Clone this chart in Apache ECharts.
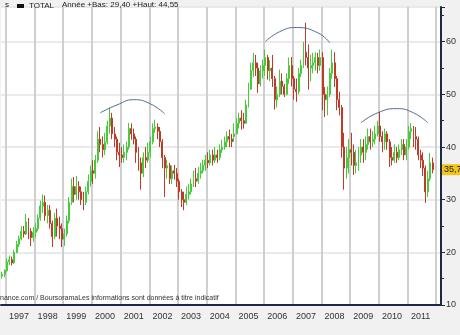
<!DOCTYPE html>
<html>
<head>
<meta charset="utf-8">
<script src="https://cdn.jsdelivr.net/npm/echarts@6.0.0/dist/echarts.min.js"></script>
<style>
html, body { margin: 0; padding: 0; background: #fff; }
#chart { width: 460px; height: 335px; }
</style>
</head>
<body>
<div id="chart"></div>
<script>
// monthly bars: [open, close, low, high]
var ohlc1996 = [[15.5,15.8,15.0,16.3],[15.8,16.5,15.3,16.8]];
var ohlc1997 = [[16.5,18.2,16.3,18.8],[18.2,18.6,17.6,19.4],[18.6,18.0,17.5,19.2],[18.0,20.0,17.8,20.5],
    [20.0,21.5,19.8,22.2],[21.5,22.6,21.0,23.2],[22.6,24.0,22.3,25.0],[24.0,23.5,22.8,25.0],
    [23.5,25.8,23.3,27.3],[25.8,24.0,22.5,26.5],[24.0,22.8,21.2,24.6],[22.8,23.8,22.0,24.8]];
var ohlc1998 = [[23.8,24.5,22.8,25.5],[24.5,26.5,24.0,27.2],[26.5,28.8,26.0,29.8],[28.8,29.5,27.5,31.0],
    [29.5,27.0,26.0,30.8],[27.0,28.0,25.5,29.0],[28.0,25.5,24.5,29.0],[25.5,23.0,21.0,26.0],
    [23.0,26.5,22.5,27.5],[26.5,25.0,23.0,28.3],[25.0,24.5,22.5,26.8],[24.5,22.5,21.0,25.5]];
var ohlc1999 = [[22.5,23.5,21.2,24.5],[23.5,26.0,23.0,27.0],[26.0,29.5,25.5,30.5],[29.5,32.5,29.0,34.0],
    [32.5,31.0,29.5,34.3],[31.0,32.5,30.0,34.5],[32.5,31.5,30.0,33.5],[31.5,30.0,29.0,32.5],
    [30.0,29.5,28.0,31.5],[29.5,31.5,29.0,32.5],[31.5,33.5,31.0,34.8],[33.5,35.5,32.5,36.5]];
var ohlc2000 = [[35.5,35.0,33.0,37.5],[35.0,37.5,34.0,38.5],[37.5,41.5,37.0,43.0],[41.5,40.5,39.0,43.8],
    [40.5,39.5,38.0,42.0],[39.5,41.0,38.5,42.7],[41.0,44.0,40.5,45.0],[44.0,45.5,42.5,47.5],
    [45.5,42.5,41.5,46.5],[42.5,41.5,40.0,43.8],[41.5,39.0,37.5,42.0],[39.0,38.5,36.2,40.8]];
var ohlc2001 = [[38.5,38.0,37.0,40.0],[38.0,39.0,37.0,40.5],[39.0,40.0,37.5,41.0],[40.0,43.5,39.5,44.6],
    [43.5,42.5,41.4,44.5],[42.5,41.5,40.5,43.5],[41.5,39.0,37.0,42.0],[39.0,37.0,35.5,40.0],
    [37.0,35.0,31.9,38.0],[35.0,38.0,34.3,39.0],[38.0,37.5,36.0,40.0],[37.5,39.0,37.0,40.8]];
var ohlc2002 = [[39.0,41.0,38.0,42.0],[41.0,43.5,40.5,44.5],[43.5,43.8,42.7,45.2],[43.8,43.0,41.5,44.5],
    [43.0,41.0,40.0,43.8],[41.0,38.0,36.0,41.5],[38.0,36.0,30.5,38.5],[36.0,36.5,34.0,37.6],
    [36.5,34.0,33.0,37.0],[34.0,35.5,33.0,36.5],[35.5,35.0,33.8,36.6],[35.0,33.5,32.4,36.0]];
var ohlc2003 = [[33.5,31.5,30.0,34.0],[31.5,30.0,28.6,32.0],[30.0,29.5,28.0,31.5],[29.5,31.0,29.0,32.5],
    [31.0,31.5,30.0,33.0],[31.5,33.0,31.0,34.0],[33.0,34.0,32.4,35.5],[34.0,33.5,32.4,36.0],
    [33.5,35.0,33.0,36.2],[35.0,35.5,34.0,37.0],[35.5,36.5,35.0,37.6],[36.5,37.5,35.5,38.5]];
var ohlc2004 = [[37.5,37.0,36.0,39.0],[37.0,38.5,36.5,39.5],[38.5,37.5,36.5,39.5],[37.5,38.5,37.0,40.0],
    [38.5,38.0,37.0,39.5],[38.0,39.5,37.5,40.5],[39.5,40.0,38.9,41.4],[40.0,41.0,39.5,42.0],
    [41.0,42.0,40.0,43.0],[42.0,41.5,40.0,43.3],[41.5,41.0,40.0,42.5],[42.0,42.5,41.0,44.5]];
var ohlc2005 = [[42.5,44.5,42.5,45.5],[44.5,45.5,43.5,46.5],[45.5,45.0,43.3,47.0],[45.0,44.5,43.5,46.5],
    [44.5,48.0,44.5,49.0],[48.0,51.0,47.5,52.2],[51.0,54.5,50.9,56.0],[54.5,56.0,53.3,57.9],
    [56.0,55.0,53.5,57.5],[55.0,52.0,50.3,56.0],[52.0,54.5,51.5,55.5],[54.5,55.5,53.0,56.6]];
var ohlc2006 = [[55.5,57.0,53.5,58.5],[57.0,54.5,52.8,57.5],[54.5,55.0,52.5,56.5],[55.0,53.0,51.4,57.5],
    [53.0,49.0,47.1,53.5],[49.0,50.0,47.5,51.5],[50.0,52.5,49.5,54.7],[52.5,51.5,50.0,54.0],
    [51.5,50.0,49.5,52.0],[50.0,53.0,49.8,54.0],[53.0,55.5,52.0,57.0],[55.5,53.0,51.5,57.1]];
var ohlc2007 = [[53.0,51.0,49.0,53.5],[51.0,50.5,48.6,53.0],[50.5,54.0,50.0,55.0],[54.0,55.5,53.3,56.6],
    [55.5,58.0,55.0,60.0],[58.0,57.0,55.5,63.6],[57.0,55.0,50.9,59.5],[55.0,55.5,52.5,57.5],
    [55.5,56.0,54.0,57.9],[56.0,57.0,54.5,58.0],[57.0,55.5,54.0,57.9],[55.5,57.0,54.5,58.5]];
var ohlc2008 = [[57.0,50.0,47.0,58.0],[50.0,49.0,45.7,51.4],[49.0,50.0,46.0,51.5],[50.0,54.0,49.5,55.0],
    [54.0,56.0,53.0,58.5],[56.0,53.0,51.4,58.0],[53.0,49.0,47.0,53.5],[49.0,47.5,46.0,50.5],
    [47.5,40.0,38.0,48.0],[40.0,36.0,31.9,42.7],[36.0,38.0,34.0,40.0],[38.0,39.5,35.0,41.5]];
var ohlc2009 = [[39.5,39.0,36.5,42.7],[39.0,36.5,34.7,40.5],[36.5,37.0,35.0,39.5],[37.0,38.5,35.5,40.0],
    [38.5,40.0,37.0,41.5],[40.0,39.0,37.0,41.5],[39.0,40.5,37.5,42.0],[40.5,42.0,39.5,43.5],
    [42.0,41.0,39.5,43.5],[41.0,41.5,40.0,43.0],[41.5,42.5,40.5,44.0],[42.5,44.0,42.0,45.0]];
var ohlc2010 = [[44.0,42.0,41.0,46.7],[42.0,41.0,39.0,43.0],[41.0,42.5,39.5,43.5],[42.5,41.0,39.5,43.0],
    [41.0,38.0,36.2,41.5],[38.0,37.5,36.5,40.0],[37.5,39.0,37.0,40.5],[39.0,38.0,37.0,40.0],
    [38.0,39.5,37.5,40.5],[39.5,40.5,38.5,41.5],[40.5,38.5,37.5,41.5],[38.5,40.0,37.5,41.5]];
var ohlc2011 = [[40.0,43.0,39.5,44.0],[43.0,43.5,41.5,44.55],[43.5,42.0,40.0,44.0],[42.0,41.5,39.5,43.8],
    [41.5,38.5,37.5,42.0],[38.5,37.5,36.0,39.5],[37.5,36.0,34.5,39.0],[36.0,31.5,29.4,36.5],
    [31.5,34.0,30.5,35.5],[34.0,37.0,33.5,38.9],[37.0,35.7,35.0,38.0]];

// hand drawn arcs over the three tops: [month, value]
var arcLeft = [['2000-04',46.5],['2000-11',48.0],['2001-06',49.0],['2002-01',48.2],['2002-07',46.3]];
var arcHead = [['2006-01',60.0],['2006-07',61.9],['2007-02',62.7],['2007-11',61.7],['2008-04',59.8]];
var arcRight = [['2009-05',44.6],['2009-12',46.5],['2010-08',47.3],['2011-03',46.5],['2011-09',44.6]];

var lastPrice = 35.7;
var yTicks = [10, 20, 30, 40, 50, 60];

// months from nov 1996 to feb 2012
var months = [];
for (var y = 1996; y <= 2012; y++) {
    for (var m = 1; m <= 12; m++) {
        if (y == 1996 && m < 11) continue;
        if (y == 2012 && m > 2) break;
        months.push(y + '-' + (m < 10 ? '0' + m : m));
    }
}

var bars = [].concat(ohlc1996, ohlc1997, ohlc1998, ohlc1999, ohlc2000, ohlc2001, ohlc2002, ohlc2003,
    ohlc2004, ohlc2005, ohlc2006, ohlc2007, ohlc2008, ohlc2009, ohlc2010, ohlc2011);

var narrow = '"Liberation Sans Narrow", "Liberation Sans", Arial, sans-serif';
var navy = '#1c2a48';

function arcSeries(pts) {
    return {
        type: 'line', data: pts, smooth: true, symbol: 'none', silent: true,
        lineStyle: { color: '#4f6f8f', width: 1 }, z: 5
    };
}

var myChart = echarts.init(document.getElementById('chart'));

var option = {
    backgroundColor: '#f1f1f1',
    animation: false,
    title: [
        { text: 's', left: 0, top: -4, textStyle: { fontSize: 8, fontWeight: 'normal', color: '#222', fontFamily: narrow } },
        { text: 'Année +Bas: 29,40 +Haut: 44,55', left: 57, top: -4,
          textStyle: { fontSize: 8, fontWeight: 'normal', color: '#222', fontFamily: narrow } }
    ],
    legend: {
        left: 12, top: -3, icon: 'rect', itemWidth: 7, itemHeight: 4, itemGap: 4,
        textStyle: { fontSize: 8, color: '#222', fontFamily: narrow },
        data: [{ name: 'TOTAL', itemStyle: { color: '#111', borderColor: '#111', borderWidth: 0 } }]
    },
    graphic: [{
        type: 'text', left: 0, top: 295, z: 10,
        style: { text: 'nance.com / BoursoramaLes informations sont données à titre indicatif',
                 font: '7px ' + narrow, fill: '#333' }
    }],
    grid: { left: 1, right: 19, top: 7, bottom: 30, show: true, backgroundColor: '#fff', borderWidth: 0 },
    xAxis: {
        type: 'category', data: months, boundaryGap: true,
        axisLine: { lineStyle: { color: navy, width: 2 } },
        axisTick: { length: 3, lineStyle: { color: navy },
                    interval: function (i, v) { return v.slice(5) == '01'; } },
        axisLabel: { color: '#333', fontSize: 9, fontFamily: narrow, margin: 7,
                     interval: function (i, v) { return v.slice(5) == '06'; },
                     formatter: function (v) { return v.slice(0, 4); } },
        splitLine: { show: true, lineStyle: { color: '#cfcfcf', width: 2 },
                     interval: function (i, v) { return v.slice(5) == '01'; } }
    },
    yAxis: {
        type: 'value', position: 'right', min: 10, max: 66.6, interval: 10, scale: true,
        axisLine: { show: true, lineStyle: { color: navy, width: 2 } },
        axisTick: { show: true, length: 4, lineStyle: { color: navy } },
        minorTick: { show: true, splitNumber: 2, length: 3, lineStyle: { color: navy } },
        axisLabel: { color: '#333', fontSize: 9, fontFamily: narrow, margin: 5, showMaxLabel: false,
                     formatter: function (v) { return yTicks.indexOf(v) >= 0 ? v : ''; } },
        splitLine: { lineStyle: { color: '#e3e3e3', width: 1.5 } }
    },
    series: [
        {
            name: 'TOTAL', type: 'candlestick', data: bars, barWidth: '60%',
            itemStyle: { color: '#44cc3a', color0: '#c03a28', borderColor: '#44cc3a', borderColor0: '#c03a28', borderWidth: 1 },
            markLine: {
                symbol: 'none', silent: true, animation: false,
                data: [{ yAxis: lastPrice }],
                lineStyle: { color: 'rgba(0,0,0,0)', width: 0 },
                label: { show: true, position: 'end', distance: 1, formatter: '35,7', color: '#222', fontSize: 9,
                         fontFamily: narrow, backgroundColor: '#f2c41c', padding: [1, 2, 1, 2] }
            }
        },
        arcSeries(arcLeft),
        arcSeries(arcHead),
        arcSeries(arcRight)
    ]
};

myChart.setOption(option);
</script>
</body>
</html>
